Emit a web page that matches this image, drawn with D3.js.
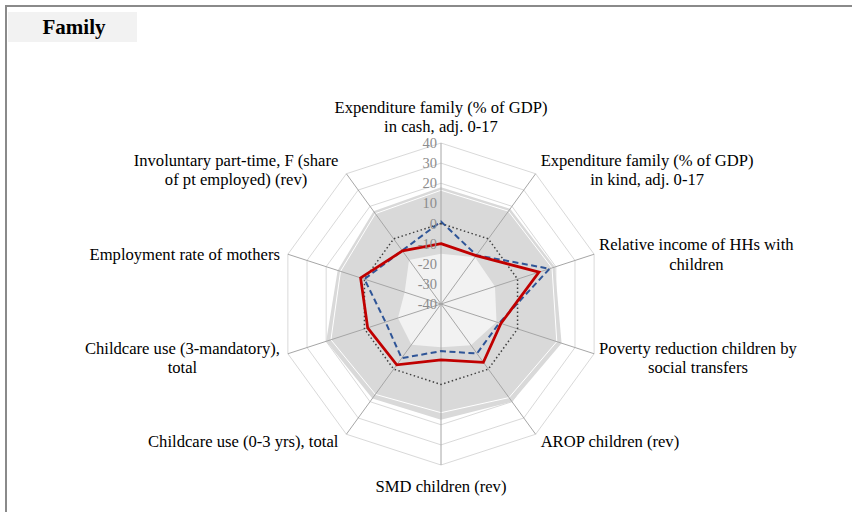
<!DOCTYPE html>
<html><head><meta charset="utf-8">
<script src="https://cdn.jsdelivr.net/npm/d3@7"></script>
<style>body{margin:0;background:#fff}svg{display:block}</style>
</head><body>
<svg id="c" width="852" height="512"></svg>
<script>
const title = "Family";
const categories = [
  "Expenditure family (% of GDP)\nin cash, adj. 0-17",
  "Expenditure family (% of GDP)\nin kind, adj. 0-17",
  "Relative income of HHs with\nchildren",
  "Poverty reduction children by\nsocial transfers",
  "AROP children (rev)",
  "SMD children (rev)",
  "Childcare use (0-3 yrs), total",
  "Childcare use (3-mandatory),\ntotal",
  "Employment rate of mothers",
  "Involuntary part-time, F (share\nof pt employed) (rev)"
];
const tickValues = [-40, -30, -20, -10, 0, 10, 20, 30, 40];
const maxValues = [18, 18.5, 19.5, 23, 20, 17.5, 18, 20, 14, 17];
const upperValues = [16.5, 17, 18, 20.5, 17.5, 14, 15.5, 17.5, 12.5, 15.5];
const minValues = [-15, -11.3, -11.8, -11, -14.7, -18.5, -15, -17.5, -21, -13];
const averageValues = [0, 0, 0, 0, 0, 0, 0, 0, 0, 0];
const comparatorValues = [1, -10, 16.7, -9.5, -9.6, -16.6, -6.7, -11, 0, -7.2];
const countryValues = [-10, -10.3, 11.2, -8.7, -4.2, -12.2, -2.6, -1.7, 2, -7.4];

const svg = d3.select("#c");
const cx = 441, cy = 304, R = 161;
const n = categories.length;
const r = d3.scaleLinear().domain([-40, 40]).range([0, R]);
const ang = d3.scaleLinear().domain([0, n]).range([0, 2 * Math.PI]);
const pt = (i, v) => [cx + r(v) * Math.sin(ang(i)), cy - r(v) * Math.cos(ang(i))];
const poly = vals => d3.line()(vals.map((v, i) => pt(i, v))) + "Z";

// frame
svg.append("rect").attr("x", 6).attr("y", 6).attr("width", 860).attr("height", 520)
  .attr("fill", "#fff").attr("stroke", "#8a8a8a").attr("stroke-width", 2);
svg.append("rect").attr("x", 8).attr("y", 12).attr("width", 129).attr("height", 30).attr("fill", "#f2f2f2");
svg.append("text").attr("x", 74).attr("y", 34).attr("text-anchor", "middle")
  .attr("font-family", "Liberation Serif, serif").attr("font-weight", "bold").attr("font-size", 21)
  .attr("fill", "#000").text(title);

// gridlines
const g = svg.append("g");
tickValues.filter(t => t > -40).forEach(t => {
  g.append("path").attr("d", poly(d3.range(n).map(() => t)))
    .attr("fill", "none").attr("stroke", "#d9d9d9").attr("stroke-width", 1);
});
// areas
g.append("path").attr("d", poly(maxValues)).attr("fill", "#d9d9d9");
g.append("path").attr("d", poly(upperValues)).attr("fill", "#d9d9d9").attr("stroke", "#fff").attr("stroke-width", 1);
g.append("path").attr("d", poly(minValues)).attr("fill", "#f2f2f2");
// spokes
d3.range(n).forEach(i => {
  const [x, y] = pt(i, 40);
  g.append("line").attr("x1", cx).attr("y1", cy).attr("x2", x).attr("y2", y)
    .attr("stroke", "#a6a6a6").attr("stroke-width", 1);
});
// series
g.append("path").attr("d", poly(averageValues)).attr("fill", "none")
  .attr("stroke", "#404040").attr("stroke-width", 1.5).attr("stroke-dasharray", "1.5,2.5");
g.append("path").attr("d", poly(comparatorValues)).attr("fill", "none")
  .attr("stroke", "#2f5597").attr("stroke-width", 2).attr("stroke-dasharray", "6,3.5");
g.append("path").attr("d", poly(countryValues)).attr("fill", "none")
  .attr("stroke", "#c00000").attr("stroke-width", 2.75).attr("stroke-linejoin", "miter");

// tick labels
tickValues.forEach(t => {
  g.append("text").attr("x", cx - 4).attr("y", cy - r(t)).attr("dy", "0.35em")
    .attr("text-anchor", "end").attr("font-family", "Liberation Serif, serif").attr("font-size", 14.5)
    .attr("fill", "#8c8c8c").text(t);
});

// category labels
const lh = 19.5;
categories.forEach((c, i) => {
  const lines = c.split("\n");
  const [ex, ey] = pt(i, 40);
  const s = Math.sin(ang(i)), co = Math.cos(ang(i));
  const t = g.append("text").attr("font-family", "Liberation Serif, serif").attr("font-size", 16.6).attr("fill", "#000");
  const spans = lines.map(l => t.append("tspan").text(l));
  const w = d3.max(spans, sp => sp.node().getComputedTextLength());
  let bx;
  if (s > 0.1) bx = ex + 5 + w / 2; else if (s < -0.1) bx = ex - 8 - w / 2; else bx = ex;
  let top;
  const h = lines.length * lh;
  if (co > 0.9) top = ey - 7 - h;
  else if (co < -0.9) top = ey + 11;
  else if (co > 0.5) top = ey - h / 2 - 4;
  else if (co < -0.5) top = ey - h / 2 + 7;
  else top = ey - h / 2 + (co < 0 ? 4 : 0);
  spans.forEach((sp, k) => sp.attr("x", bx).attr("y", top + k * lh + lh / 2).attr("dy", "0.35em").attr("text-anchor", "middle"));
});
</script>
</body></html>
